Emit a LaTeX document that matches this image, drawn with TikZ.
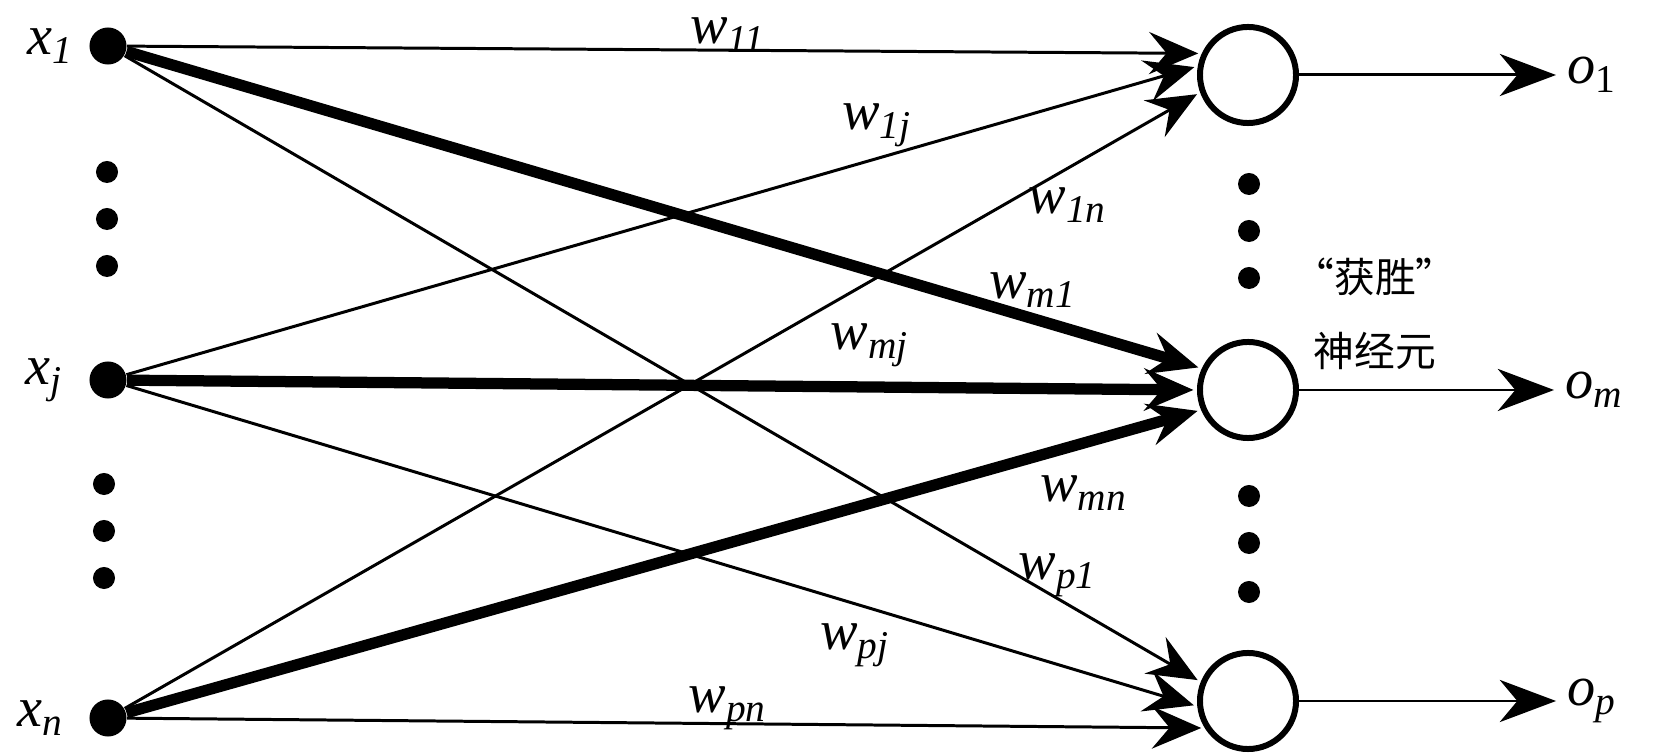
\documentclass[tikz,border=0pt]{standalone}
\usepackage{fontspec}
\setmainfont{Liberation Serif}
\newfontfamily\cjkfont{Noto Sans CJK SC}
\usetikzlibrary{arrows.meta, positioning}
\newcommand{\wlab}[1]{\textit{w}\textsubscript{\textit{#1}}}
\tikzset{
    innode/.style={circle, fill=black, inner sep=0pt, minimum size=0.37cm},
    dotnode/.style={circle, fill=black, inner sep=0pt, minimum size=0.22cm},
    outnode/.style={circle, draw=black, line width=1.7pt, inner sep=0pt, minimum size=0.96cm},
    wlabel/.style={font=\fontsize{16}{19}\selectfont, inner sep=1pt},
    iolabel/.style={font=\fontsize{16}{19}\selectfont, inner sep=3pt},
    cjklabel/.style={font=\cjkfont\fontsize{11.6}{21}\selectfont, align=center},
    link/.style={-{Stealth[length=14pt, width=12pt, inset=5pt]}, line width=0.85pt, shorten >=1pt},
    strong/.style={link, line width=3.2pt},
    outarrow/.style={-{Stealth[length=16pt, width=12pt, inset=5pt]}, line width=0.85pt}
}

\begin{document}
\begin{tikzpicture}[x=0.01cm, y=-0.01cm]
    \useasboundingbox (0,0) rectangle (1675,755);

    % input layer
    \node [innode] (x1) at (108,46) {};
    \node [innode] (xj) at (108,380) {};
    \node [innode] (xn) at (108,718) {};
    \node [iolabel, left=1pt of x1] (lx1) {\textit{x}\textsubscript{\textit{1}}};
    \node [iolabel, left=4pt of xj] (lxj) {\textit{x}\textsubscript{\textit{j}}};
    \node [iolabel, left=4pt of xn] (lxn) {\textit{x}\textsubscript{\textit{n}}};
    \foreach \y [count=\k] in {172,219,266} \node [dotnode] (da\k) at (107,\y) {};
    \foreach \y [count=\k] in {484,531,578} \node [dotnode] (db\k) at (104,\y) {};

    % competitive layer
    \node [outnode] (o1) at (1248,75) {};
    \node [outnode] (om) at (1248,390) {};
    \node [outnode] (op) at (1248,701) {};
    \foreach \y [count=\k] in {184,231,278} \node [dotnode] (dc\k) at (1249,\y) {};
    \foreach \y [count=\k] in {496,543,592} \node [dotnode] (dd\k) at (1249,\y) {};
    \node [iolabel, anchor=west] (lo1) at (1556,75) {\textit{o}\textsubscript{1}};
    \node [iolabel, anchor=west] (lom) at (1554,390) {\textit{o}\textsubscript{\textit{m}}};
    \node [iolabel, anchor=west] (lop) at (1556,701) {\textit{o}\textsubscript{\textit{p}}};
    \node [cjklabel] (win) at (1375,314) {“获胜”\\神经元};

    % weights
    \draw [link] (x1) -- (o1.155);
    \draw [link] (xj) -- (o1.170);
    \draw [link] (xn) -- (o1.200);
    \draw [strong] (x1) -- (om.155);
    \draw [strong] (xj) -- (om.180);
    \draw [strong] (xn) -- (om.203);
    \draw [link] (x1) -- (op.158);
    \draw [link] (xj) -- (op.186);
    \draw [link] (xn) -- (op.212);

    \node [wlabel] (w11) at (728,35) {\wlab{11}};
    \node [wlabel] (w1j) at (877,125) {\wlab{1j}};
    \node [wlabel] (w1n) at (1068,205) {\wlab{1n}};
    \node [wlabel] (wm1) at (1033,290) {\wlab{m1}};
    \node [wlabel] (wmj) at (870,345) {\wlab{mj}};
    \node [wlabel] (wmn) at (1084,493) {\wlab{mn}};
    \node [wlabel] (wp1) at (1058,575) {\wlab{p1}};
    \node [wlabel] (wpj) at (855,645) {\wlab{pj}};
    \node [wlabel] (wpn) at (728,708) {\wlab{pn}};

    % outputs
    \draw [outarrow] (o1) -- (lo1);
    \draw [outarrow] (om) -- (lom);
    \draw [outarrow] (op) -- (lop);
\end{tikzpicture}
\end{document}
